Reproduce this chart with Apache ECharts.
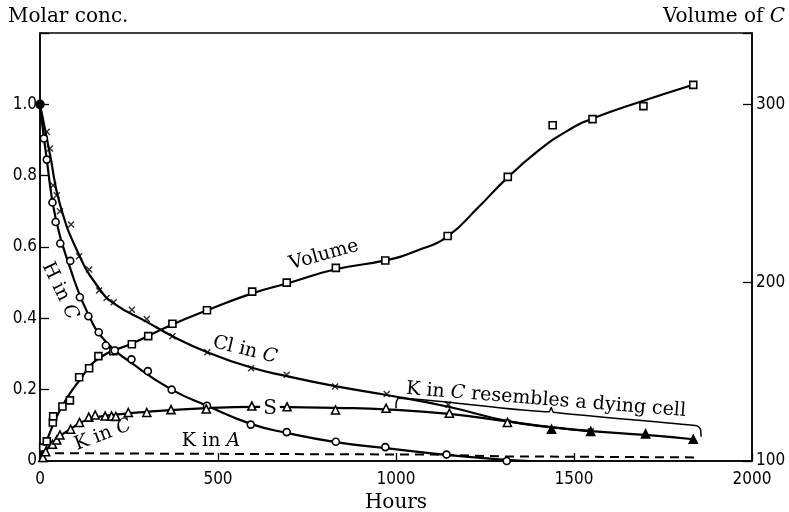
<!DOCTYPE html>
<html><head><meta charset="utf-8">
<script src="https://cdn.jsdelivr.net/npm/echarts@6/dist/echarts.min.js"></script>
<style>html,body{margin:0;padding:0;background:#fff}#c{width:789px;height:512px}</style>
</head><body><div id="c"></div>
<script>
// ---- tick labels ----
const xTicks = [0, 500, 1000, 1500, 2000];
const yLeftTicks = [0, 0.2, 0.4, 0.6, 0.8, 1.0];
const yRightTicks = [100, 200, 300];

// ---- Volume of C (right axis) : [hours, volume] ----
const volumePoints = [[9,107.5],[19,111],[36,121.6],[37,125],[63,130.6],[84,134],[110,147],[138,152],[164,158.8],[206,161.6],[258,165.5],[304,170],[372,177],[469,184.5],[596,195],[693,200],[831,208.3],[970,212.4],[1145,226.2],[1314,259.3],[1440,288.3],[1552,291.7],[1695,299],[1835,310.9]];
const volumeCurve = [[3,102],[20,112],[60,130],[110,145],[165,157.5],[260,166],[372,176.5],[470,184.5],[596,194],[693,199.5],[830,207.5],[970,212.5],[1060,218],[1145,226],[1230,242],[1311,258.5],[1400,274],[1480,285],[1552,292],[1695,302],[1835,311]];

// ---- H in C : [hours, molar conc.] ----
const hPoints = [[11,0.904],[19,0.845],[35,0.725],[44,0.670],[57,0.610],[85,0.561],[112,0.459],[136,0.406],[165,0.361],[185,0.324],[210,0.310],[257,0.285],[303,0.252],[370,0.200],[469,0.155],[592,0.102],[693,0.081],[831,0.054],[970,0.039],[1142,0.018],[1311,0.0]];
const hCurve = [[0,1.0],[19,0.845],[44,0.68],[85,0.54],[136,0.410],[187,0.332],[257,0.275],[370,0.200],[469,0.155],[592,0.104],[693,0.079],[831,0.053],[970,0.036],[1142,0.017],[1311,0.003],[1380,0.0]];

// ---- Cl in C ----
const clPoints = [[19,0.923],[28,0.876],[37,0.773],[47,0.745],[56,0.700],[87,0.663],[110,0.574],[138,0.537],[166,0.478],[187,0.457],[207,0.445],[258,0.424],[300,0.398],[372,0.350],[470,0.305],[593,0.260],[693,0.242],[829,0.209],[974,0.188],[1147,0.158],[1313,0.108],[1547,0.083]];
const clCurve = [[0,1.0],[28,0.86],[56,0.72],[110,0.577],[166,0.484],[207,0.442],[300,0.390],[372,0.350],[470,0.305],[593,0.262],[693,0.238],[829,0.210],[974,0.185],[1147,0.152],[1313,0.112],[1440,0.094],[1547,0.084]];

// ---- K in C ----
const kcPoints = [[8,0.010],[16,0.026],[35,0.047],[47,0.059],[56,0.073],[86,0.089],[111,0.108],[137,0.123],[155,0.129],[183,0.126],[201,0.126],[213,0.125],[248,0.136],[300,0.136],[368,0.144],[467,0.146],[595,0.154],[694,0.152],[830,0.143],[972,0.148],[1150,0.134],[1313,0.108]];
const kcDyingPoints = [[1437,0.089],[1547,0.083],[1701,0.076],[1835,0.061]];
const kcCurve = [[0,0.0],[16,0.028],[47,0.062],[86,0.090],[137,0.117],[213,0.130],[300,0.138],[467,0.148],[595,0.152],[700,0.151],[830,0.149],[972,0.145],[1150,0.132],[1313,0.111],[1437,0.095],[1547,0.084],[1701,0.073],[1835,0.061]];

// ---- K in A (dashed) ----
const kaCurve = [[0,0.022],[500,0.020],[1100,0.018],[1300,0.013],[1845,0.010]];

// ---- start point and brace annotation ----
const startPoint = [[0,1.0]];
const braceLine = [[1000,0.148],[1001,0.165],[1008,0.176],[1430,0.138],[1436,0.150],[1442,0.137],[1845,0.099],[1855,0.090],[1857,0.068]];

const SERIF = "'DejaVu Serif', serif";
const COND = "'DejaVu Sans Condensed','Liberation Sans Narrow',sans-serif";
const INK = '#000';

function lineSeries(data, yIdx, extra) {
  return Object.assign({
    type: 'line', data: data, yAxisIndex: yIdx, showSymbol: false, symbol: 'none',
    smooth: 0.5, silent: true, z: 2,
    lineStyle: { color: INK, width: 2.2 }
  }, extra || {});
}
function pointSeries(data, yIdx, symbol, size, fill, extra) {
  return Object.assign({
    type: 'scatter', data: data, yAxisIndex: yIdx, symbol: symbol, symbolSize: size, z: 5, silent: true,
    itemStyle: { color: fill, borderColor: INK, borderWidth: 1.6, opacity: 1 }
  }, extra || {});
}
function label(x, y, rot, text, size, extraStyle) {
  return {
    type: 'text', x: x, y: y, rotation: rot, z: 100,
    style: Object.assign({
      text: text, align: 'center', verticalAlign: 'middle', fill: INK,
      fontFamily: SERIF, fontSize: size,
      rich: {
        n: { fontFamily: SERIF, fontSize: size, fill: INK },
        i: { fontFamily: SERIF, fontSize: size, fontStyle: 'italic', fill: INK }
      }
    }, extraStyle || {})
  };
}

const chart = echarts.init(document.getElementById('c'), null, { renderer: 'canvas' });
chart.setOption({
  animation: false,
  backgroundColor: '#fff',
  grid: { left: 40, right: 37, top: 33, bottom: 51, containLabel: false, outerBoundsMode: 'none',
          show: true, borderColor: INK, borderWidth: 1.5, backgroundColor: 'transparent' },
  xAxis: {
    type: 'value', min: xTicks[0], max: xTicks[xTicks.length - 1], interval: xTicks[1] - xTicks[0],
    name: 'Hours', nameLocation: 'middle', nameGap: 31,
    nameTextStyle: { fontFamily: SERIF, fontSize: 20, color: INK },
    axisLine: { show: true, lineStyle: { color: INK, width: 1.5 } },
    axisTick: { show: true, inside: true, length: 8, lineStyle: { color: INK, width: 1.3 } },
    splitLine: { show: false },
    axisLabel: { color: INK, fontFamily: COND, fontSize: 17, margin: 10, formatter: v => String(v) }
  },
  yAxis: [{
    type: 'value', min: 0, max: 1.2, interval: 0.2,
    axisLine: { show: true, lineStyle: { color: INK, width: 1.5 } },
    axisTick: { show: true, inside: true, length: 9, lineStyle: { color: INK, width: 1.3 } },
    splitLine: { show: false },
    axisLabel: {
      color: INK, fontFamily: COND, fontSize: 17, margin: 3,
      formatter: v => { if (v === 0) return '0'; if (v > 1.05) return ''; return yLeftTicks.indexOf(Math.round(v * 10) / 10) >= 0 ? v.toFixed(1) : ''; }
    }
  }, {
    type: 'value', min: 100, max: 340, interval: 100, position: 'right',
    axisLine: { show: true, lineStyle: { color: INK, width: 1.5 } },
    axisTick: { show: true, inside: true, length: 9, lineStyle: { color: INK, width: 1.3 } },
    splitLine: { show: false },
    axisLabel: { color: INK, fontFamily: COND, fontSize: 17, margin: 4,
      formatter: v => yRightTicks.indexOf(v) >= 0 ? String(v) : '' }
  }],
  series: [
    lineSeries(volumeCurve, 1),
    pointSeries(volumePoints, 1, 'rect', 7, '#fff'),
    lineSeries(hCurve, 0),
    pointSeries(hPoints, 0, 'circle', 7, '#fff'),
    lineSeries(clCurve, 0),
    pointSeries(clPoints, 0, 'path://M0,0L10,10M10,0L0,10', 6, 'none', { itemStyle: { color: 'none', borderColor: INK, borderWidth: 1.5 } }),
    lineSeries(kcCurve, 0),
    pointSeries(kcPoints, 0, 'triangle', 8, '#fff'),
    pointSeries(kcDyingPoints, 0, 'triangle', 8, INK),
    lineSeries(kaCurve, 0, { smooth: false, lineStyle: { color: INK, width: 2, type: [9, 6] } }),
    pointSeries(startPoint, 0, 'circle', 8, INK, { z: 6 }),
    lineSeries(braceLine, 0, { smooth: 0.2, lineStyle: { color: INK, width: 1.5 }, z: 3 })
  ],
  graphic: [
    { type: 'text', x: 8, y: 17, z: 100, style: { text: 'Molar conc.', fill: INK, fontFamily: SERIF, fontSize: 20, verticalAlign: 'middle', align: 'left' } },
    label(724, 17, 0, '{n|Volume of }{i|C}', 20),
    label(324, 255, 0.27, 'Volume', 19),
    label(245, 350, -0.24, '{n|Cl in }{i|C}', 19),
    label(60, 291, -1.12, '{n|H in }{i|C}', 19),
    label(103, 435, 0.36, '{n|K in }{i|C}', 19),
    label(211, 441, 0, '{n|K in }{i|A}', 19),
    label(270, 409, 0, 'S', 20, { backgroundColor: '#fff', padding: [0, 3, 0, 3] }),
    label(546, 400, -0.079, '{n|K in }{i|C}{n| resembles a dying cell}', 19)
  ]
});
</script>
</body></html>
